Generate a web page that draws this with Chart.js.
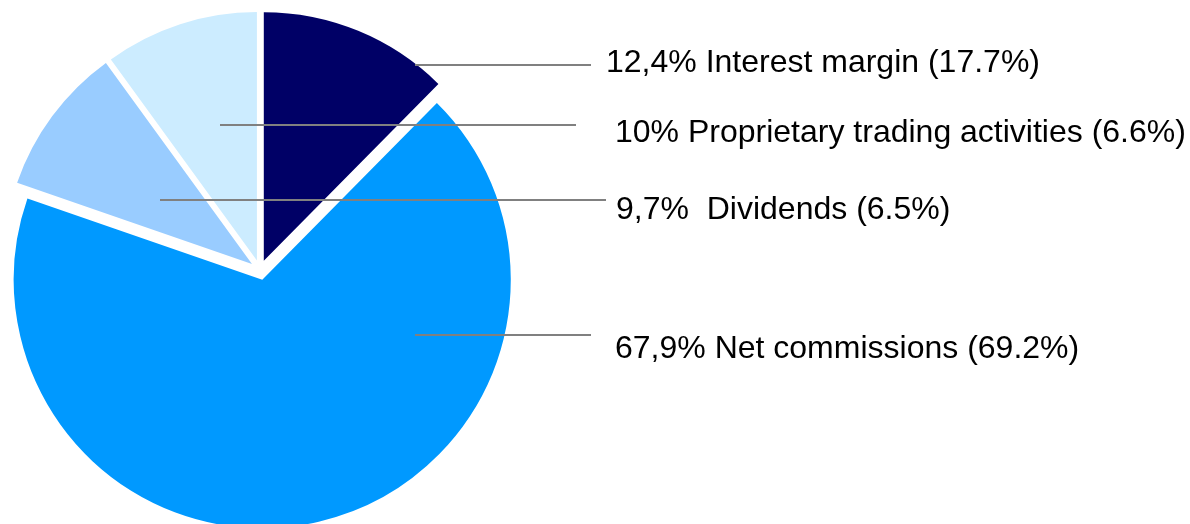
<!DOCTYPE html>
<html lang="en">
<head>
<meta charset="UTF-8">
<title>Revenue breakdown</title>
<script src="https://cdn.jsdelivr.net/npm/chart.js"></script>
<style>
  html, body { margin: 0; padding: 0; background: #fff; }
</style>
</head>
<body>
<canvas id="canvas" width="1190" height="524"></canvas>
<script>
// share of revenues, current year vs previous year (in brackets)
const categories = ['Interest margin', 'Net commissions', 'Dividends', 'Proprietary trading activities'];
const shares = [12.4, 67.9, 9.7, 10];
const priorShares = [17.7, 69.2, 6.5, 6.6];

const colors = ['#000066', '#0099FF', '#99CCFF', '#CCECFF'];
const explodeOffset = 10; // every slice pulled out from the centre

// leader line (x0 -> x1 at ly) and text anchor (tx, baseline ty) for each slice
const labelLayout = [
    { x0: 415, x1: 591, ly: 65,  tx: 606, ty: 72,  gap: ' ' },
    { x0: 415, x1: 591, ly: 335, tx: 615, ty: 358, gap: ' ' },
    { x0: 160, x1: 606, ly: 200, tx: 616, ty: 219, gap: '  ' },
    { x0: 220, x1: 576, ly: 125, tx: 615, ty: 142, gap: ' ' }
];

function fmtShare(v) {
    return String(v).replace('.', ',') + '%';
}

// push each arc outwards along its middle angle
const explodePlugin = {
    id: 'explode',
    afterDatasetsUpdate(chart) {
        chart.getDatasetMeta(0).data.forEach(arc => {
            const mid = (arc.startAngle + arc.endAngle) / 2;
            arc.x += Math.cos(mid) * explodeOffset;
            arc.y += Math.sin(mid) * explodeOffset;
        });
    }
};

const labelPlugin = {
    id: 'sliceLabels',
    afterDraw(chart) {
        const ctx = chart.ctx;
        ctx.save();
        ctx.strokeStyle = '#808080';
        ctx.lineWidth = 2;
        ctx.fillStyle = '#000';
        ctx.font = '32px "Liberation Sans", Arial, sans-serif';
        ctx.textBaseline = 'alphabetic';
        ctx.textAlign = 'left';
        categories.forEach((name, i) => {
            const p = labelLayout[i];
            ctx.beginPath();
            ctx.moveTo(p.x0, p.ly);
            ctx.lineTo(p.x1, p.ly);
            ctx.stroke();
            const txt = fmtShare(shares[i]) + p.gap + name + ' (' + priorShares[i].toFixed(1) + '%)';
            ctx.fillText(txt, p.tx, p.ty);
        });
        ctx.restore();
    }
};

const ctx = document.getElementById('canvas').getContext('2d');
const chart = new Chart(ctx, {
    type: 'pie',
    data: {
        labels: categories,
        datasets: [{
            data: shares,
            backgroundColor: colors,
            borderWidth: 0,
            clip: false
        }]
    },
    options: {
        responsive: false,
        animation: false,
        events: [],
        radius: 248.5,
        layout: { padding: { top: 16, right: 670, bottom: 0, left: 0 } },
        plugins: {
            legend: { display: false },
            tooltip: { enabled: false }
        }
    },
    plugins: [explodePlugin, labelPlugin]
});
</script>
</body>
</html>
